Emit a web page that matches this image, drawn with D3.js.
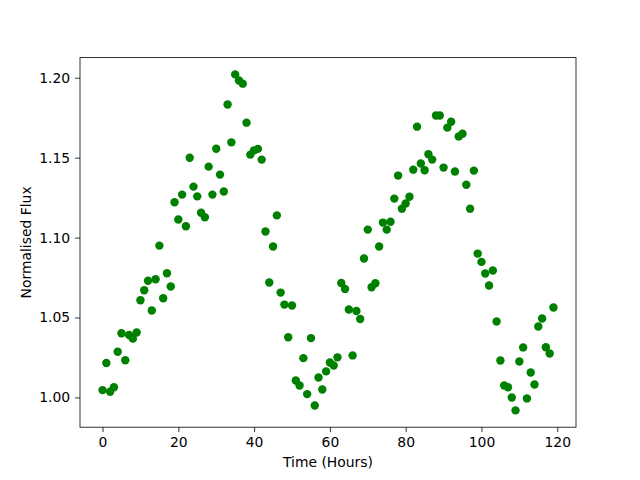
<!DOCTYPE html>
<html>
<head>
<meta charset="utf-8">
<script src="https://cdn.jsdelivr.net/npm/d3@7"></script>
<style>
  body { margin: 0; background: white; }
  text { font-family: "DejaVu Sans", sans-serif; }
</style>
</head>
<body>
<script>
// normalised flux, one reading per hour starting at hour 0
const flux = [
  1.0046, 1.0216, 1.0036, 1.0064, 1.0286, 1.0402, 1.0233, 1.0391, 1.0368, 1.0406,
  1.0608, 1.0671, 1.0730, 1.0544, 1.0739, 1.0950, 1.0621, 1.0777, 1.0694, 1.1221,
  1.1113, 1.1269, 1.1071, 1.1500, 1.1319, 1.1258, 1.1156, 1.1127, 1.1444, 1.1269,
  1.1556, 1.1394, 1.1288, 1.1833, 1.1596, 1.2021, 1.1983, 1.1963, 1.1719, 1.1519,
  1.1546, 1.1555, 1.1488, 1.1038, 1.0719, 1.0944, 1.1139, 1.0656, 1.0581, 1.0377,
  1.0575, 1.0106, 1.0075, 1.0246, 1.0021, 1.0371, 0.9950, 1.0125, 1.0050, 1.0163,
  1.0219, 1.0200, 1.0251, 1.0716, 1.0679, 1.0550, 1.0263, 1.0541, 1.0491, 1.0869,
  1.1050, 1.0689, 1.0714, 1.0944, 1.1094, 1.1050, 1.1099, 1.1244, 1.1388, 1.1181,
  1.1213, 1.1256, 1.1425, 1.1694, 1.1464, 1.1421, 1.1521, 1.1488, 1.1764, 1.1764,
  1.1438, 1.1688, 1.1725, 1.1414, 1.1633, 1.1650, 1.1331, 1.1181, 1.1419, 1.0900,
  1.0848, 1.0775, 1.0700, 1.0794, 1.0475, 1.0231, 1.0075, 1.0064, 1.0000, 0.9919,
  1.0225, 1.0313, 0.9994, 1.0156, 1.0081, 1.0444, 1.0494, 1.0314, 1.0275, 1.0563
]
const xTicks = [0, 20, 40, 60, 80, 100, 120]
const yTicks = [1.00, 1.05, 1.10, 1.15, 1.20]

const points = flux.map((f, i) => ({ hour: i, flux: f }))

const margin = { top: 57.6, right: 64, bottom: 52.8, left: 80 }
const width = 640 - margin.left - margin.right
const height = 480 - margin.top - margin.bottom

const svg = d3.select('body').append('svg')
    .attr('width', 640)
    .attr('height', 480)
    .append('g')
        .attr('transform', `translate(${margin.left}, ${margin.top})`)

// matplotlib style 5% margins
const pad = (lo, hi) => [lo - (hi - lo) * 0.05, hi + (hi - lo) * 0.05]
const xExt = d3.extent(points, d => d.hour)
const yExt = d3.extent(points, d => d.flux)

const xScale = d3.scaleLinear().domain(pad(...xExt)).range([0, width])
const yScale = d3.scaleLinear().domain(pad(...yExt)).range([height, 0])

const xAxis = svg.append('g')
    .attr('transform', `translate(0, ${height})`)
    .call(d3.axisBottom(xScale).tickValues(xTicks).tickSize(4.9).tickPadding(4.9).tickFormat(d3.format('d')))

const yAxis = svg.append('g')
    .call(d3.axisLeft(yScale).tickValues(yTicks).tickSize(4.9).tickPadding(4.9).tickFormat(d3.format('.2f')))

svg.selectAll('.domain').remove()
svg.selectAll('.tick line').attr('stroke', 'black').attr('stroke-width', 0.8)
svg.selectAll('.tick text')
    .style('font-family', '"DejaVu Sans", sans-serif')
    .style('font-size', '13.9px')
    .attr('fill', 'black')

svg.append('rect')
    .attr('width', width)
    .attr('height', height)
    .attr('fill', 'none')
    .attr('stroke', 'black')
    .attr('stroke-width', 0.8)

svg.selectAll('.dot')
    .data(points)
    .enter().append('circle')
    .attr('class', 'dot')
    .attr('cx', d => xScale(d.hour))
    .attr('cy', d => yScale(d.flux))
    .attr('r', 4.2)
    .style('fill', 'green')

svg.append('text')
    .attr('x', width / 2)
    .attr('y', height + 40)
    .style('text-anchor', 'middle')
    .style('font-size', '13.9px')
    .text('Time (Hours)')

svg.append('text')
    .attr('transform', 'rotate(-90)')
    .attr('x', -height / 2)
    .attr('y', -49)
    .style('text-anchor', 'middle')
    .style('font-size', '13.9px')
    .text('Normalised Flux')
</script>
</body>
</html>
